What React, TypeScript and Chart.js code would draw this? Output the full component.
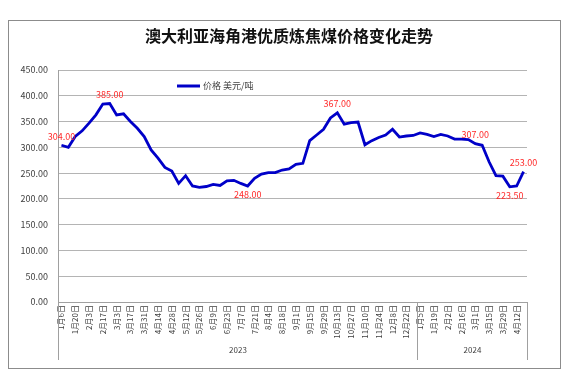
import React, { useEffect, useRef } from 'react';
import { Chart, registerables } from 'chart.js';

Chart.register(...registerables);

const titleText = '澳大利亚海角港优质炼焦煤价格变化走势';
const seriesName = '价格 美元/吨';

const dates2023 = [
  '1月6日', '1月13日', '1月20日', '1月27日', '2月3日', '2月10日', '2月17日', '2月24日',
  '3月3日', '3月10日', '3月17日', '3月24日', '3月31日', '4月7日', '4月14日', '4月21日',
  '4月28日', '5月5日', '5月12日', '5月19日', '5月26日', '6月2日', '6月9日', '6月16日',
  '6月23日', '6月30日', '7月7日', '7月14日', '7月21日', '7月28日', '8月4日', '8月11日',
  '8月18日', '8月25日', '9月1日', '9月8日', '9月15日', '9月22日', '9月29日', '10月6日',
  '10月13日', '10月20日', '10月27日', '11月3日', '11月10日', '11月17日', '11月24日', '12月1日',
  '12月8日', '12月15日', '12月22日', '12月29日',
];
const dates2024 = [
  '1月5日', '1月12日', '1月19日', '1月26日', '2月2日', '2月9日', '2月16日', '2月23日',
  '3月1日', '3月8日', '3月15日', '3月22日', '3月29日', '4月5日', '4月12日', '4月19日',
];
const categories = [...dates2023, ...dates2024];

const yearLabels = ['2023', '2024'];
const yearSizes = [dates2023.length, dates2024.length];

const prices = [
  304, 300, 321, 332, 347, 363, 384, 385,
  363, 365, 350, 337, 321, 295, 279, 261,
  254, 230, 245, 225, 222.5, 224, 228, 226,
  235, 236, 230, 225, 240, 248, 251, 251,
  256, 258, 267, 269, 313, 324, 335, 357,
  367, 345, 348, 349, 305, 313, 319, 324,
  335, 320, 322, 323,
  328, 325, 321, 325, 322, 316, 316, 315,
  307, 304, 272, 245, 244, 223.5, 225, 253,
];

const yTickValues = [0, 50, 100, 150, 200, 250, 300, 350, 400, 450];

const labelIndices = [0, 7, 27, 40, 60, 65, 67];
const labelTexts = ['304.00', '385.00', '248.00', '367.00', '307.00', '223.50', '253.00'];
const labelBelow = [false, false, true, false, false, true, false];

const LINE_COLOR = '#0000c8';
const GRID_COLOR = '#b4b4b4';
const AXIS_COLOR = '#a0a0a0';
const FONT = '"Noto Sans CJK SC", "DejaVu Sans", sans-serif';

const decorPlugin = {
  id: 'decor',
  afterDatasetsDraw(chart: any) {
    const ctx = chart.ctx;
    const meta = chart.getDatasetMeta(0);
    ctx.save();
    ctx.font = `9px ${FONT}`;
    ctx.fillStyle = '#ff2a2a';
    ctx.textAlign = 'center';
    ctx.textBaseline = 'middle';
    labelIndices.forEach((idx, k) => {
      const pt = meta.data[idx];
      if (!pt) return;
      const dy = labelBelow[k] ? 9 : -9;
      ctx.fillText(labelTexts[k], pt.x, pt.y + dy);
    });
    ctx.restore();
  },
  afterDraw(chart: any) {
    const ctx = chart.ctx;
    const area = chart.chartArea;
    const xs = chart.scales.x;
    ctx.save();
    // title
    ctx.font = `bold 16px ${FONT}`;
    ctx.fillStyle = '#111';
    ctx.textAlign = 'center';
    ctx.textBaseline = 'middle';
    ctx.fillText(titleText, 280, 15);

    // legend
    ctx.strokeStyle = LINE_COLOR;
    ctx.lineWidth = 3;
    ctx.beginPath();
    ctx.moveTo(168, 65);
    ctx.lineTo(191, 65);
    ctx.stroke();
    ctx.font = `9px ${FONT}`;
    ctx.fillStyle = '#404040';
    ctx.textAlign = 'left';
    ctx.fillText(seriesName, 194, 65);

    // year group separators and labels
    const step = (area.right - area.left) / categories.length;
    ctx.strokeStyle = AXIS_COLOR;
    ctx.lineWidth = 1;
    let start = 0;
    const bounds: number[] = [Math.round(area.left) + 0.5];
    yearSizes.forEach((n) => {
      start += n;
      bounds.push(Math.round(xs.getPixelForValue(start - 1) + step / 2) + 0.5);
    });
    bounds.forEach((bx) => {
      ctx.beginPath();
      ctx.moveTo(bx, area.bottom);
      ctx.lineTo(bx, 339);
      ctx.stroke();
    });
    ctx.font = `8px ${FONT}`;
    ctx.fillStyle = '#404040';
    ctx.textAlign = 'center';
    yearLabels.forEach((t, i) => {
      ctx.fillText(t, (bounds[i] + bounds[i + 1]) / 2, 329);
    });
    ctx.restore();
  },
};

export default function App() {
  const ref = useRef<HTMLCanvasElement>(null);

  useEffect(() => {
    if (!ref.current) return;
    const chart = new Chart(ref.current, {
      type: 'line',
      data: {
        labels: categories,
        datasets: [
          {
            label: seriesName,
            data: prices,
            borderColor: LINE_COLOR,
            backgroundColor: LINE_COLOR,
            borderWidth: 2.8,
            pointRadius: 0,
            tension: 0,
            fill: false,
          },
        ],
      },
      options: {
        animation: false,
        responsive: true,
        maintainAspectRatio: false,
        layout: { padding: { top: 49, right: 33, left: 0, bottom: 0 } },
        plugins: {
          legend: { display: false },
          title: { display: false },
          tooltip: { enabled: false },
        },
        scales: {
          x: {
            type: 'category',
            offset: true,
            afterFit: (s: any) => {
              s.height = 66;
            },
            grid: { display: false, drawTicks: false },
            border: { display: true, color: AXIS_COLOR },
            ticks: {
              autoSkip: false,
              maxRotation: 90,
              minRotation: 90,
              padding: 3,
              color: '#404040',
              font: { size: 8, family: FONT },
              callback: (_v: any, i: number) => (i % 2 === 0 ? categories[i] : ''),
            },
          },
          y: {
            min: 0,
            max: 450,
            afterFit: (s: any) => {
              s.width = 49;
            },
            afterBuildTicks: (s: any) => {
              s.ticks = yTickValues.map((v) => ({ value: v }));
            },
            grid: { color: GRID_COLOR, lineWidth: 1, drawTicks: false },
            border: { display: true, color: AXIS_COLOR },
            ticks: {
              padding: 10,
              color: '#404040',
              font: { size: 9, family: FONT },
              callback: (v: any) => Number(v).toFixed(2),
            },
          },
        },
      },
      plugins: [decorPlugin],
    } as any);
    return () => chart.destroy();
  }, []);

  return (
    <div style={{ paddingTop: 12 }}>
      <div
        style={{
          width: 551,
          height: 347,
          border: '1px solid #8c8c8c',
          position: 'relative',
          background: '#fff',
        }}
      >
        <canvas ref={ref} />
      </div>
    </div>
  );
}
